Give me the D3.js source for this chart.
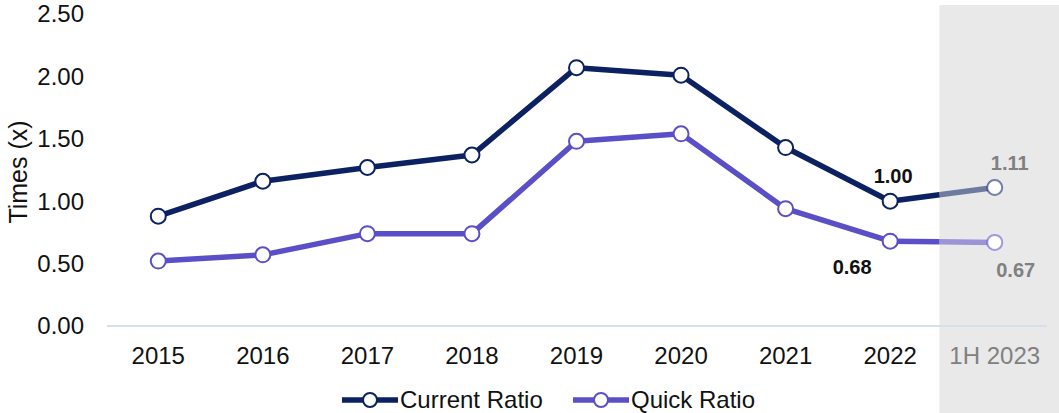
<!DOCTYPE html>
<html>
<head>
<meta charset="utf-8">
<script src="https://cdn.jsdelivr.net/npm/d3@7"></script>
<style>
  body { margin: 0; background: #fff; }
  svg { display: block; font-family: "Liberation Sans", Arial, sans-serif; }
</style>
</head>
<body>
<svg id="chart" width="1059" height="413"></svg>
<script>
// chart data
var periods = ["2015", "2016", "2017", "2018", "2019", "2020", "2021", "2022", "1H 2023"];
var currentRatio = [0.88, 1.16, 1.27, 1.37, 2.07, 2.01, 1.43, 1.00, 1.11];
var quickRatio = [0.52, 0.57, 0.74, 0.74, 1.48, 1.54, 0.94, 0.68, 0.67];
var yTicks = [0, 0.5, 1, 1.5, 2, 2.5];

var svg = d3.select("#chart");
var W = 1059, H = 413;

var x = d3.scaleBand().domain(periods).range([106, 1047]);
var y = d3.scaleLinear().domain([0, 2.5]).range([326, 14]);

var navy = "#0b2161", purple = "#5b4fc8";
var lastIdx = periods.length - 1;

// shaded estimate column
svg.append("rect")
    .attr("x", x(periods[lastIdx]) - 3)
    .attr("y", 5)
    .attr("width", W - (x(periods[lastIdx]) - 3))
    .attr("height", H - 5)
    .attr("fill", "#e9e9e9");

// y axis labels
svg.append("g").selectAll("text")
    .data(yTicks).enter().append("text")
    .attr("x", 84)
    .attr("y", function(d){ return y(d); })
    .attr("dy", "0.35em")
    .attr("text-anchor", "end")
    .attr("font-size", 24)
    .attr("fill", "#111")
    .text(function(d){ return d3.format(".2f")(d); });

svg.append("text")
    .attr("transform", "translate(27,172) rotate(-90)")
    .attr("text-anchor", "middle")
    .attr("font-size", 25)
    .attr("fill", "#111")
    .text("Times (x)");

// x axis baseline
svg.append("line")
    .attr("x1", 107).attr("x2", 1047)
    .attr("y1", y(0)).attr("y2", y(0))
    .attr("stroke", "#d6e0ea")
    .attr("stroke-width", 2);

svg.append("g").selectAll("text")
    .data(periods).enter().append("text")
    .attr("x", function(d){ return x(d) + x.bandwidth() / 2; })
    .attr("y", 364)
    .attr("text-anchor", "middle")
    .attr("font-size", 24)
    .attr("fill", function(d, i){ return i === lastIdx ? "#808080" : "#111"; })
    .text(function(d){ return d; });

function cx(i){ return x(periods[i]) + x.bandwidth() / 2; }

function drawSeries(values, color){
    var pts = values.map(function(v, i){ return [cx(i), y(v)]; });
    var line = d3.line();
    // actuals
    svg.append("path")
        .attr("d", line(pts.slice(0, lastIdx)))
        .attr("fill", "none")
        .attr("stroke", color)
        .attr("stroke-width", 5.5)
        .attr("stroke-linejoin", "round");
    // last segment: solid to the shading, faded inside it
    var p0 = pts[lastIdx - 1], p1 = pts[lastIdx];
    var xs = x(periods[lastIdx]) - 3;
    var t = (xs - p0[0]) / (p1[0] - p0[0]);
    var mid = [xs, p0[1] + t * (p1[1] - p0[1])];
    svg.append("path")
        .attr("d", line([p0, mid]))
        .attr("stroke", color).attr("stroke-width", 5.5);
    svg.append("path")
        .attr("d", line([mid, p1]))
        .attr("stroke", color).attr("stroke-opacity", 0.55).attr("stroke-width", 5.5);
    svg.append("g").selectAll("circle")
        .data(pts).enter().append("circle")
        .attr("cx", function(d){ return d[0]; })
        .attr("cy", function(d){ return d[1]; })
        .attr("r", 7.5)
        .attr("fill", "#fff")
        .attr("stroke", color)
        .attr("stroke-opacity", function(d, i){ return i === lastIdx ? 0.55 : 1; })
        .attr("stroke-width", 2);
}

drawSeries(currentRatio, navy);
drawSeries(quickRatio, purple);

// data labels on the last two points
var labels = [
    {v: currentRatio[lastIdx - 1], i: lastIdx - 1, dx: 3, dy: -25, c: "#111"},
    {v: currentRatio[lastIdx], i: lastIdx, dx: 15, dy: -24, c: "#808080"},
    {v: quickRatio[lastIdx - 1], i: lastIdx - 1, dx: -38, dy: 26, c: "#111"},
    {v: quickRatio[lastIdx], i: lastIdx, dx: 21, dy: 28, c: "#808080"}
];
svg.append("g").selectAll("text")
    .data(labels).enter().append("text")
    .attr("x", function(d){ return cx(d.i) + d.dx; })
    .attr("y", function(d){ return y(d.v) + d.dy; })
    .attr("dy", "0.35em")
    .attr("text-anchor", "middle")
    .attr("font-size", 20)
    .attr("font-weight", "bold")
    .attr("fill", function(d){ return d.c; })
    .text(function(d){ return d3.format(".2f")(d.v); });

// legend
var legend = [
    {name: "Current Ratio", color: navy, x: 342},
    {name: "Quick Ratio", color: purple, x: 573}
];
var lg = svg.append("g").selectAll("g")
    .data(legend).enter().append("g")
    .attr("transform", function(d){ return "translate(" + d.x + ",400)"; });
lg.append("line")
    .attr("x1", 0).attr("x2", 56)
    .attr("stroke", function(d){ return d.color; })
    .attr("stroke-width", 5.5);
lg.append("circle")
    .attr("cx", 28).attr("r", 7)
    .attr("fill", "#fff")
    .attr("stroke", function(d){ return d.color; })
    .attr("stroke-width", 2);
lg.append("text")
    .attr("x", 58)
    .attr("dy", "0.35em")
    .attr("font-size", 24)
    .attr("fill", "#111")
    .text(function(d){ return d.name; });
</script>
</body>
</html>
